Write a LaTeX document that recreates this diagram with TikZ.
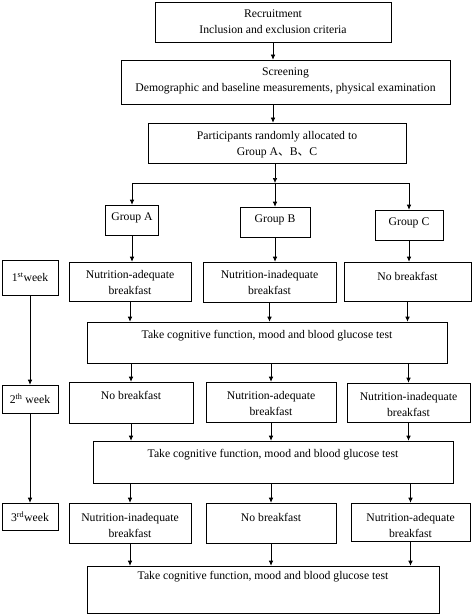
\documentclass[tikz,border=0pt]{standalone}
\usepackage{fontspec}
\setmainfont{Liberation Serif}
\newfontfamily\cjk{Noto Sans CJK SC}
\usetikzlibrary{arrows.meta}
\tikzset{
	stage/.style={draw, line width=0.6pt, inner sep=0pt},
	txt/.style={anchor=north, align=center, inner sep=0pt, yshift=-8pt},
	arr/.style={line width=0.6pt, -{Latex[length=5pt,width=4.5pt]}}
}

\begin{document}
\begin{tikzpicture}[x=1pt,y=-1pt,font=\fontsize{11.7}{16}\selectfont]
	\useasboundingbox (0,0) rectangle (472,615);
	
	% enrolment
	\node[stage,minimum width=236pt,minimum height=40pt,label={[txt]north:{Recruitment\\Inclusion and exclusion criteria}}] (rec) at (273,22) {};
	\node[stage,minimum width=329pt,minimum height=44pt,label={[txt]north:{Screening\\Demographic and baseline measurements, physical examination}}] (scr) at (285.5,82) {};
	\node[stage,minimum width=258pt,minimum height=40pt,label={[txt]north:{Participants randomly allocated to\\Group A{\cjk 、}B{\cjk 、}C}}] (par) at (277,143) {};
	\coordinate (split) at (275,183);
	
	% groups
	\node[stage,minimum width=53pt,minimum height=30pt,label={[txt]north:Group A}] (gA) at (132,220) {};
	\node[stage,minimum width=70pt,minimum height=30pt,label={[txt]north:Group B}] (gB) at (275,222) {};
	\node[stage,minimum width=68pt,minimum height=30pt,label={[txt]north:Group C}] (gC) at (409,225) {};
	
	% weeks
	\node[stage,minimum width=56pt,minimum height=35pt] (w1) at (30,277.5) {1\textsuperscript{st}week};
	\node[stage,minimum width=56pt,minimum height=28pt] (w2) at (30,399) {2\textsuperscript{th} week};
	\node[stage,minimum width=56pt,minimum height=27pt] (w3) at (30,516.5) {3\textsuperscript{rd}week};
	
	% 1st week
	\node[stage,minimum width=122pt,minimum height=39pt,label={[txt]north:{Nutrition-adequate\\breakfast}}] (a1) at (130,281.5) {};
	\node[stage,minimum width=133pt,minimum height=40pt,label={[txt]north:{Nutrition-inadequate\\breakfast}}] (b1) at (269.5,282) {};
	\node[stage,minimum width=127pt,minimum height=39pt,label={[txt,yshift=-2pt]north:No breakfast}] (c1) at (407.5,281.5) {};
	\node[stage,minimum width=360pt,minimum height=41pt,label={[txt]north:Take cognitive function, mood and blood glucose test}] (t1) at (267,342.5) {};
	
	% 2nd week
	\node[stage,minimum width=124pt,minimum height=41pt,label={[txt,yshift=-1pt]north:No breakfast}] (a2) at (131,402.5) {};
	\node[stage,minimum width=130pt,minimum height=40pt,label={[txt,yshift=-1pt]north:{Nutrition-adequate\\breakfast}}] (b2) at (271,402) {};
	\node[stage,minimum width=123pt,minimum height=39pt,label={[txt,yshift=-1pt]north:{Nutrition-inadequate\\breakfast}}] (c2) at (408.5,402.5) {};
	\node[stage,minimum width=360pt,minimum height=42pt,label={[txt]north:Take cognitive function, mood and blood glucose test}] (t2) at (273,462) {};
	
	% 3rd week
	\node[stage,minimum width=122pt,minimum height=40pt,label={[txt,yshift=-2pt]north:{Nutrition-inadequate\\breakfast}}] (a3) at (130,523) {};
	\node[stage,minimum width=130pt,minimum height=40pt,label={[txt,yshift=-2pt]north:No breakfast}] (b3) at (271,523) {};
	\node[stage,minimum width=119pt,minimum height=38pt,label={[txt,yshift=-2pt]north:{Nutrition-adequate\\breakfast}}] (c3) at (410.5,522) {};
	\node[stage,minimum width=352pt,minimum height=47pt,label={[txt,yshift=3pt]north:Take cognitive function, mood and blood glucose test}] (t3) at (263,589.5) {};
	
	% arrows
	\draw[arr] (rec.south) -- (rec.south |- scr.north);
	\draw[arr] (scr.south -| rec) -- (par.north -| rec);
	\draw[arr] (par.south -| split) -- (split);
	\draw[line width=0.6pt] (split -| gA) -- (split -| gC);
	\foreach \g in {gA,gB,gC}
		\draw[arr] (split -| \g) -- (\g.north);
	\draw[arr] (gA.south) -- (gA.south |- a1.north);
	\draw[arr] (gB.south) -- (gB.south |- b1.north);
	\draw[arr] (gC.south) -- (gC.south |- c1.north);
	\foreach \r in {a1,b1,c1}
		\draw[arr] (\r.south) -- (\r.south |- t1.north);
	\foreach \r in {a2,b2,c2}
		\draw[arr] (t1.south -| \r) -- (\r.north);
	\foreach \r in {a2,b2,c2}
		\draw[arr] (\r.south) -- (\r.south |- t2.north);
	\foreach \r in {a3,b3,c3}
		\draw[arr] (t2.south -| \r) -- (\r.north);
	\foreach \r in {a3,b3,c3}
		\draw[arr] (\r.south) -- (\r.south |- t3.north);
	\draw[arr] (w1) -- (w2);
	\draw[arr] (w2) -- (w3);
\end{tikzpicture}
\end{document}
